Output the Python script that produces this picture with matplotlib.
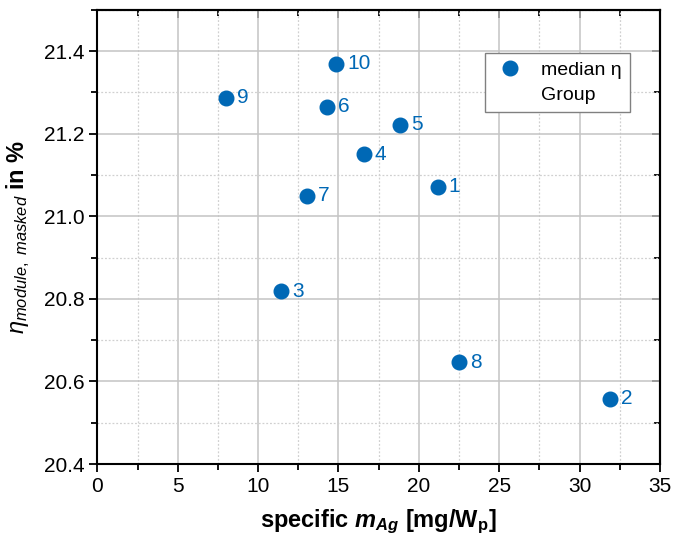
import matplotlib
matplotlib.use("Agg")
import matplotlib.pyplot as plt
from matplotlib.lines import Line2D
from matplotlib.ticker import MultipleLocator, NullFormatter

plt.rcParams['font.family'] = ['Liberation Sans', 'DejaVu Sans']
plt.rcParams['mathtext.fontset'] = 'custom'
plt.rcParams['mathtext.rm'] = 'Liberation Sans'
plt.rcParams['mathtext.it'] = 'Liberation Sans:italic'
plt.rcParams['mathtext.bf'] = 'Liberation Sans:bold'
plt.rcParams['mathtext.bfit'] = 'Liberation Sans:bold:italic'

# group number, specific silver mass [mg/Wp], median module efficiency [%]
groups = ['1', '2', '3', '4', '5', '6', '7', '8', '9', '10']
m_ag = [21.17, 31.9, 11.42, 16.57, 18.83, 14.27, 13.02, 22.5, 7.98, 14.85]
eta = [21.071, 20.558, 20.819, 21.150, 21.222, 21.265, 21.049, 20.647, 21.287, 21.369]

blue = '#0068b5'

fig = plt.figure(figsize=(6.86, 5.39), dpi=100)
ax = fig.add_axes([0.142, 0.139, 0.82, 0.843])

ax.plot(m_ag, eta, 'o', color=blue, markersize=10.5, zorder=3)
for g, x, y in zip(groups, m_ag, eta):
    ax.annotate(g, (x, y), xytext=(8, 0), textcoords='offset points',
                va='center', ha='left', fontsize=15, color=blue)

ax.set_xlim(0, 35)
ax.set_ylim(20.4, 21.5)
ax.xaxis.set_major_locator(MultipleLocator(5))
ax.xaxis.set_minor_locator(MultipleLocator(2.5))
ax.yaxis.set_major_locator(MultipleLocator(0.2))
ax.yaxis.set_minor_locator(MultipleLocator(0.1))
ax.yaxis.set_major_formatter(plt.FormatStrFormatter('%.1f'))

ax.grid(which='major', color='#c4c4c4', linewidth=1.1, linestyle='-')
ax.grid(which='minor', color='#d0d0d0', linewidth=0.9, linestyle=(0, (1.5, 1.5)))
ax.set_axisbelow(True)

for s in ax.spines.values():
    s.set_linewidth(1.5)
    s.set_color('black')

ax.tick_params(which='both', direction='out', labelsize=15, width=1.3)
ax.tick_params(which='major', length=6)
ax.tick_params(which='minor', length=4)

# inward ticks on the top and right frame
top = ax.secondary_xaxis('top')
top.xaxis.set_major_locator(MultipleLocator(5))
top.xaxis.set_minor_locator(MultipleLocator(2.5))
top.xaxis.set_major_formatter(NullFormatter())
right = ax.secondary_yaxis('right')
right.yaxis.set_major_locator(MultipleLocator(0.2))
right.yaxis.set_minor_locator(MultipleLocator(0.1))
right.yaxis.set_major_formatter(NullFormatter())
for sec in (top, right):
    sec.tick_params(which='both', direction='in', width=1.3)
    sec.tick_params(which='major', length=6)
    sec.tick_params(which='minor', length=4)
    for s in sec.spines.values():
        s.set_linewidth(1.5)

ax.set_xlabel(r'specific $\mathbfit{m}_{\mathbfit{Ag}}$ [mg/W$_{\mathbf{p}}$]',
              fontsize=17, fontweight='bold', labelpad=8)
ax.set_ylabel(r'$\mathit{\eta}_{\mathit{module,\ masked}}$ in %',
              fontsize=17, fontweight='bold', labelpad=8)

handles = [Line2D([], [], marker='o', color=blue, linestyle='none', markersize=10.5),
           Line2D([], [], linestyle='none', marker='none')]
leg = ax.legend(handles, ['median η', 'Group'], loc='upper right',
                bbox_to_anchor=(0.947, 0.905), fontsize=14, fancybox=False,
                framealpha=1, edgecolor='#808080', handletextpad=0.8,
                handlelength=1.6, borderpad=0.45, labelspacing=0.35,
                borderaxespad=0)
leg.get_frame().set_linewidth(1.0)

fig.savefig('out.png', dpi=100)
